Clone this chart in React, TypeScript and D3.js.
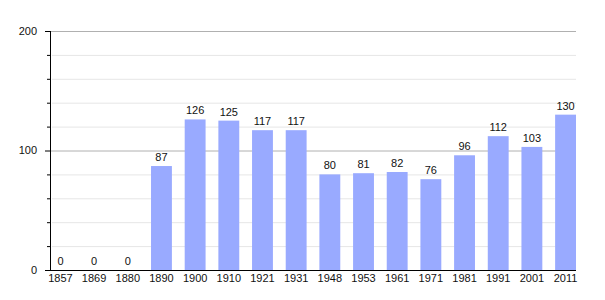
import * as React from "react";
import * as d3 from "d3";

const years = ["1857", "1869", "1880", "1890", "1900", "1910", "1921", "1931", "1948", "1953", "1961", "1971", "1981", "1991", "2001", "2011"];
const population = [0, 0, 0, 87, 126, 125, 117, 117, 80, 81, 82, 76, 96, 112, 103, 130];
const majorTicks = [0, 100, 200];
const minorTicks = [20, 40, 60, 80, 120, 140, 160, 180];

const width = 605;
const height = 300;
const margin = { top: 31, right: 29, bottom: 30, left: 50 };

export default function App() {
    const ref = React.useRef<SVGSVGElement>(null);

    React.useEffect(() => {
        const svg = d3.select(ref.current);
        svg.selectAll("*").remove();

        const x = d3.scaleBand()
            .domain(years)
            .range([margin.left, width - margin.right])
            .paddingInner(0.38)
            .paddingOuter(0)
            .align(0);

        const y = d3.scaleLinear()
            .domain([0, 200])
            .range([height - margin.bottom, margin.top]);

        const font = "'Liberation Sans', Arial, sans-serif";

        // minor grid
        svg.append("g")
            .selectAll("line")
            .data(minorTicks)
            .join("line")
            .attr("x1", margin.left + 2)
            .attr("x2", width - margin.right)
            .attr("y1", d => y(d) + 0.5)
            .attr("y2", d => y(d) + 0.5)
            .attr("stroke", "#e6e6e6");

        // major grid
        svg.append("g")
            .selectAll("line")
            .data(majorTicks.filter(d => d > 0))
            .join("line")
            .attr("x1", margin.left)
            .attr("x2", width - margin.right)
            .attr("y1", d => y(d) + 0.5)
            .attr("y2", d => y(d) + 0.5)
            .attr("stroke", "#b0b0b0");

        // bars
        svg.append("g")
            .selectAll("rect")
            .data(population)
            .join("rect")
            .attr("x", (d, i) => x(years[i]))
            .attr("y", d => y(d))
            .attr("width", x.bandwidth())
            .attr("height", d => y(0) - y(d))
            .attr("fill", "#99aaff");

        // value labels
        svg.append("g")
            .attr("font-family", font)
            .attr("font-size", 11)
            .attr("text-anchor", "middle")
            .selectAll("text")
            .data(population)
            .join("text")
            .attr("x", (d, i) => x(years[i]) + x.bandwidth() / 2)
            .attr("y", d => y(d) - 5)
            .attr("fill", "#111")
            .text(d => d);

        // axes lines
        svg.append("line")
            .attr("x1", margin.left + 0.5)
            .attr("x2", margin.left + 0.5)
            .attr("y1", y(200))
            .attr("y2", y(0))
            .attr("stroke", "#000");
        svg.append("line")
            .attr("x1", margin.left - 5)
            .attr("x2", width - margin.right)
            .attr("y1", y(0) + 0.5)
            .attr("y2", y(0) + 0.5)
            .attr("stroke", "#000")
            .attr("stroke-width", 1.2);

        // y ticks
        svg.append("g")
            .selectAll("line")
            .data(minorTicks)
            .join("line")
            .attr("x1", margin.left - 3)
            .attr("x2", margin.left)
            .attr("y1", d => y(d) + 0.5)
            .attr("y2", d => y(d) + 0.5)
            .attr("stroke", "#000");
        svg.append("g")
            .selectAll("line")
            .data(majorTicks)
            .join("line")
            .attr("x1", margin.left - 5)
            .attr("x2", margin.left)
            .attr("y1", d => y(d) + 0.5)
            .attr("y2", d => y(d) + 0.5)
            .attr("stroke", "#000");

        svg.append("g")
            .attr("font-family", font)
            .attr("font-size", 11)
            .attr("text-anchor", "end")
            .selectAll("text")
            .data(majorTicks)
            .join("text")
            .attr("x", margin.left - 13)
            .attr("y", d => y(d))
            .attr("dy", "0.35em")
            .attr("fill", "#111")
            .text(d => d);

        // x labels
        svg.append("g")
            .attr("font-family", font)
            .attr("font-size", 11)
            .attr("text-anchor", "middle")
            .selectAll("text")
            .data(years)
            .join("text")
            .attr("x", d => x(d) + x.bandwidth() / 2)
            .attr("y", y(0) + 12)
            .attr("fill", "#111")
            .text(d => d);
    }, []);

    return (
        <svg ref={ref} width={width} height={height}
             style={{ position: "absolute", left: 0, top: 0, background: "#fff" }} />
    );
}
